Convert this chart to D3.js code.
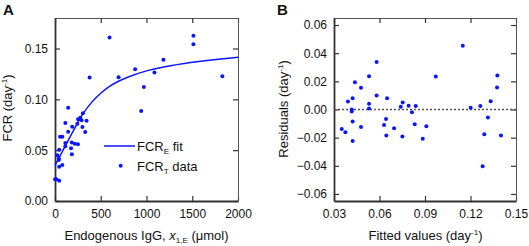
<!DOCTYPE html>
<html>
<head>
<meta charset="utf-8">
<script src="https://d3js.org/d3.v7.min.js"></script>
<style>
  body { margin: 0; background: #fff; }
  text { font-family: Arial, "Liberation Sans", sans-serif; fill: #111; }
  .frame-main { stroke: #333; stroke-width: 1.8px; }
  .frame-mirror { stroke: #555; stroke-width: 1px; }
</style>
</head>
<body>
<svg id="chart" width="529" height="246"></svg>
<script>
const iggValues = [1, 16, 26, 42, 42, 46, 46, 46, 55, 80, 80, 113, 113, 113, 144, 144, 175, 183, 188, 184,
  216, 244, 252, 251, 276, 290, 300, 305, 330, 345, 378, 596, 695, 876, 942, 971, 1087, 1185, 1513, 1513, 1829];
const fcrValues = [0.0213, 0.0214, 0.0449, 0.0417, 0.0403, 0.0503, 0.0338, 0.0200, 0.0632, 0.0632, 0.0354,
  0.0768, 0.0571, 0.0538, 0.0918, 0.0681, 0.0520, 0.0576, 0.0730, 0.0460, 0.0563, 0.0759, 0.0803, 0.0559,
  0.0818, 0.0795, 0.0727, 0.0863, 0.0678, 0.0790, 0.1214, 0.1608, 0.1218, 0.1296, 0.0886, 0.1122, 0.1264,
  0.1390, 0.1625, 0.1543, 0.1227];

// Fitted FCR_E curve
const fitIgG = [0, 100, 200, 300, 400, 500, 600, 700, 800, 1000, 1200, 1500, 2000];
const fitFCR = [0.035, 0.052, 0.069, 0.085, 0.097, 0.106, 0.113, 0.118, 0.122, 0.128, 0.132, 0.1365, 0.1415];

// Panel B: residuals vs fitted values
const fittedValues = [0.0351, 0.0375, 0.0392, 0.0417, 0.0417, 0.0423, 0.0423, 0.0423, 0.0438, 0.0478, 0.0478,
  0.0531, 0.0531, 0.0531, 0.0581, 0.0581, 0.0630, 0.0643, 0.0650, 0.0645, 0.0696, 0.0740, 0.0753, 0.0751,
  0.0792, 0.0814, 0.0832, 0.0839, 0.0885, 0.0909, 0.0971, 0.1149, 0.1201, 0.1265, 0.1280, 0.1291, 0.1315,
  0.1333, 0.1377, 0.1375, 0.1401];
const residualValues = [-0.0138, -0.0161, 0.0057, 0.0000, -0.0014, 0.0080, -0.0085, -0.0223, 0.0194, 0.0154,
  -0.0124, 0.0237, 0.0040, 0.0007, 0.0337, 0.0100, -0.0110, -0.0067, 0.0080, -0.0185, -0.0133, 0.0019, 0.0050,
  -0.0192, 0.0026, -0.0019, -0.0105, 0.0024, -0.0207, -0.0119, 0.0235, 0.0453, 0.0012, 0.0024, -0.0403,
  -0.0176, -0.0057, 0.0059, 0.0242, 0.0157, -0.0185];

const xTicksA = [0, 500, 1000, 1500, 2000];
const yTicksA = [0, 0.05, 0.10, 0.15];
const xTicksB = [0.03, 0.06, 0.09, 0.12, 0.15];
const yTicksB = [-0.06, -0.04, -0.02, 0, 0.02, 0.04, 0.06];

const svg = d3.select("#chart");
const blue = "#0a14ff";
const tickLen = 5;

// draws a framed panel with inward ticks on all four sides
function drawFrame(x, y, xTicks, yTicks, fmtX, fmtY) {
  const g = svg.append("g");
  const [x0, x1] = x.range();
  const [y0, y1] = y.range();

  const bottom = g.append("g").attr("transform", `translate(0,${y0})`)
    .call(d3.axisBottom(x).tickValues(xTicks).tickSize(-tickLen).tickSizeOuter(0).tickPadding(7).tickFormat(fmtX));
  const top = g.append("g").attr("transform", `translate(0,${y1})`)
    .call(d3.axisTop(x).tickValues(xTicks).tickSize(-tickLen).tickSizeOuter(0).tickFormat(""));
  const left = g.append("g").attr("transform", `translate(${x0},0)`)
    .call(d3.axisLeft(y).tickValues(yTicks).tickSize(-tickLen).tickSizeOuter(0).tickPadding(7).tickFormat(fmtY));
  const right = g.append("g").attr("transform", `translate(${x1},0)`)
    .call(d3.axisRight(y).tickValues(yTicks).tickSize(-tickLen).tickSizeOuter(0).tickFormat(""));

  [bottom, left].forEach(a => {
    a.select(".domain").attr("class", "domain frame-main");
    a.selectAll(".tick line").attr("stroke", "#333").attr("stroke-width", 1.2);
    a.selectAll("text").attr("font-size", 12).attr("fill", "#111");
  });
  [top, right].forEach(a => {
    a.select(".domain").attr("class", "domain frame-mirror");
    a.selectAll(".tick line").attr("stroke", "#333").attr("stroke-width", 1.2);
  });
  g.selectAll(".domain").attr("fill", "none");
  bottom.selectAll("text").attr("dy", null).attr("y", 17);
  return g;
}

// "day^-1" style suffix with superscript
function addDayUnit(t, prefix) {
  t.append("tspan").text(prefix + " (day");
  t.append("tspan").text("-1").attr("font-size", 8).attr("dy", -5);
  t.append("tspan").text(")").attr("dy", 5);
}

// ---------- Panel A ----------
const xA = d3.scaleLinear().domain([0, 2000]).range([55, 238]);
const yA = d3.scaleLinear().domain([0, 0.18]).range([201, 18]);
drawFrame(xA, yA, xTicksA, yTicksA, d3.format("d"), d3.format(".2f"));

svg.append("path")
  .datum(fitIgG.map((d, i) => [d, fitFCR[i]]))
  .attr("fill", "none")
  .attr("stroke", blue)
  .attr("stroke-width", 1.5)
  .attr("d", d3.line().x(d => xA(d[0])).y(d => yA(d[1])).curve(d3.curveMonotoneX));

svg.append("g").selectAll("circle")
  .data(iggValues.map((d, i) => [d, fcrValues[i]]))
  .join("circle")
  .attr("cx", d => xA(d[0]))
  .attr("cy", d => yA(d[1]))
  .attr("r", 2)
  .attr("fill", blue);

// legend
const leg = svg.append("g");
leg.append("line").attr("x1", 104).attr("x2", 135).attr("y1", 146).attr("y2", 146)
  .attr("stroke", blue).attr("stroke-width", 1.5);
const l1 = leg.append("text").attr("x", 137).attr("y", 151).attr("font-size", 13);
l1.append("tspan").text("FCR");
l1.append("tspan").text("E").attr("font-size", 8).attr("dy", 3);
l1.append("tspan").text(" fit").attr("dy", -3);
leg.append("circle").attr("cx", 120.7).attr("cy", 165.7).attr("r", 2).attr("fill", blue);
const l2 = leg.append("text").attr("x", 137).attr("y", 171).attr("font-size", 13);
l2.append("tspan").text("FCR");
l2.append("tspan").text("T").attr("font-size", 8).attr("dy", 3);
l2.append("tspan").text(" data").attr("dy", -3);

// axis titles
const xtA = svg.append("text").attr("x", 146.5).attr("y", 240).attr("text-anchor", "middle").attr("font-size", 13);
xtA.append("tspan").text("Endogenous IgG, ");
xtA.append("tspan").text("x").attr("font-style", "italic");
xtA.append("tspan").text("1,E").attr("font-size", 8).attr("dy", 3);
xtA.append("tspan").text(" (μmol)").attr("dy", -3);

const ytA = svg.append("text").attr("transform", "translate(12,108) rotate(-90)")
  .attr("text-anchor", "middle").attr("font-size", 13);
addDayUnit(ytA, "FCR");

svg.append("text").attr("x", 3).attr("y", 15).attr("font-size", 15).attr("font-weight", "bold").text("A");

// ---------- Panel B ----------
const xB = d3.scaleLinear().domain([0.03, 0.15]).range([334, 516]);
const yB = d3.scaleLinear().domain([-0.065, 0.065]).range([201, 18]);
drawFrame(xB, yB, xTicksB, yTicksB, d3.format(".2f"), d3.format(".2f"));

svg.append("line")
  .attr("x1", xB(0.03)).attr("x2", xB(0.15))
  .attr("y1", yB(0)).attr("y2", yB(0))
  .attr("stroke", "#555").attr("stroke-width", 1.5).attr("stroke-dasharray", "2,2");

svg.append("g").selectAll("circle")
  .data(fittedValues.map((d, i) => [d, residualValues[i]]))
  .join("circle")
  .attr("cx", d => xB(d[0]))
  .attr("cy", d => yB(d[1]))
  .attr("r", 2)
  .attr("fill", blue);

const xtB = svg.append("text").attr("x", 425.5).attr("y", 240).attr("text-anchor", "middle").attr("font-size", 13);
addDayUnit(xtB, "Fitted values");

const ytB = svg.append("text").attr("transform", "translate(288,109) rotate(-90)")
  .attr("text-anchor", "middle").attr("font-size", 13);
addDayUnit(ytB, "Residuals");

svg.append("text").attr("x", 277).attr("y", 15).attr("font-size", 15).attr("font-weight", "bold").text("B");
</script>
</body>
</html>
